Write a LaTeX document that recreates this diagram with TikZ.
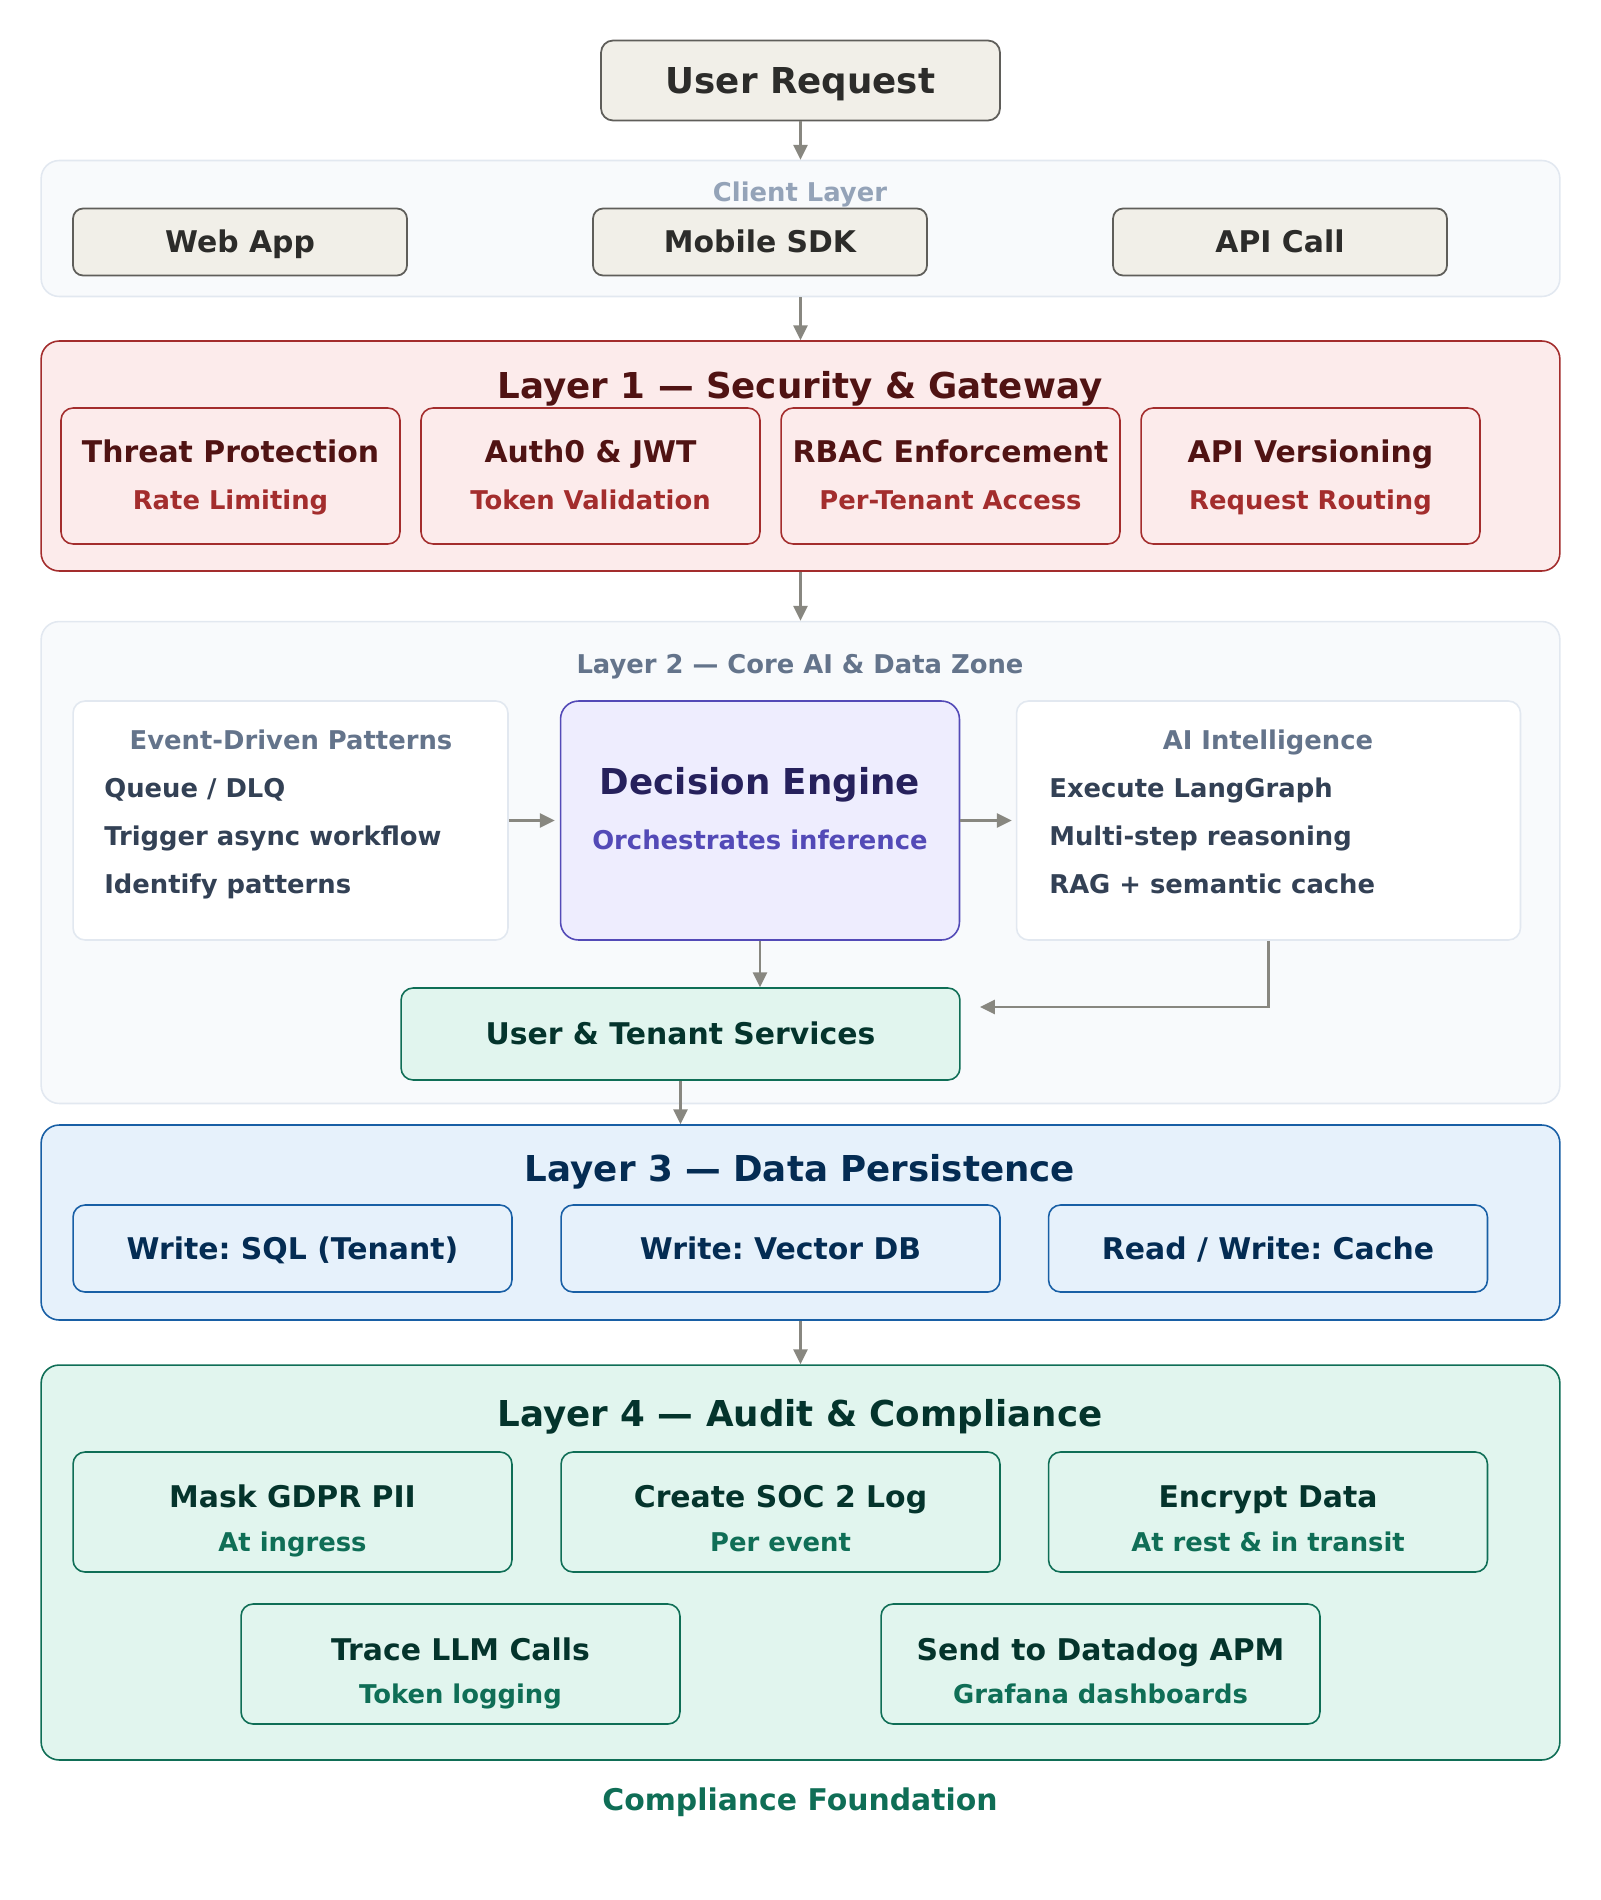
\documentclass[tikz,border=0pt]{standalone}
\usepackage{fontspec}
\setmainfont{DejaVu Sans}
\usetikzlibrary{arrows.meta}
\frenchspacing

\definecolor{arrowgray}{HTML}{888780}
\definecolor{chipfill}{HTML}{F1EFE8}
\definecolor{chipline}{HTML}{5F5E5A}
\definecolor{chiptext}{HTML}{2C2C2A}
\definecolor{zonefill}{HTML}{F8FAFC}
\definecolor{zoneline}{HTML}{E2E8F0}
\definecolor{zonelabel}{HTML}{94A3B8}
\definecolor{zonetitle}{HTML}{64748B}
\definecolor{itemtext}{HTML}{334155}
\definecolor{secfill}{HTML}{FCEBEB}
\definecolor{secline}{HTML}{A32D2D}
\definecolor{sectext}{HTML}{501313}
\definecolor{decfill}{HTML}{EEEDFE}
\definecolor{decline}{HTML}{534AB7}
\definecolor{dectext}{HTML}{26215C}
\definecolor{grnfill}{HTML}{E1F5EE}
\definecolor{grnline}{HTML}{0F6E56}
\definecolor{grntext}{HTML}{04342C}
\definecolor{bluefill}{HTML}{E6F1FB}
\definecolor{blueline}{HTML}{185FA5}
\definecolor{bluetext}{HTML}{042C53}

\begin{document}
\begin{tikzpicture}[x=0.02cm, y=-0.02cm,
    every node/.style={inner sep=0pt},
    bigfont/.style={font=\fontsize{20.3}{24}\selectfont\bfseries, text height=14.8pt, text depth=0pt},
    midfont/.style={font=\fontsize{17}{20}\selectfont\bfseries, text height=12.4pt, text depth=0pt},
    smallfont/.style={font=\fontsize{14.7}{18}\selectfont\bfseries, text height=10.7pt, text depth=0pt},
    conn/.style={draw=arrowgray, line width=1.4pt, -{Triangle[length=8.5pt,width=8pt]}},
    chip/.style={draw=chipline, fill=chipfill, text=chiptext, line width=1pt, rounded corners=0.2cm, minimum width=6.68cm, minimum height=1.34cm},
    zone/.style={draw=zoneline, fill=zonefill, line width=0.9pt, rounded corners=0.36cm, minimum width=30.38cm},
    panel/.style={draw=zoneline, fill=white, line width=0.9pt, rounded corners=0.24cm, minimum height=4.78cm},
    secbox/.style={draw=secline, fill=secfill, line width=0.9pt, rounded corners=0.36cm, minimum width=30.38cm},
    secitem/.style={draw=secline, fill=secfill, line width=0.9pt, rounded corners=0.24cm, minimum width=6.78cm, minimum height=2.72cm},
    decbox/.style={draw=decline, fill=decfill, line width=0.9pt, rounded corners=0.36cm, minimum width=7.98cm, minimum height=4.78cm},
    grnbox/.style={draw=grnline, fill=grnfill, line width=0.9pt, rounded corners=0.36cm},
    grnitem/.style={draw=grnline, fill=grnfill, line width=0.9pt, rounded corners=0.24cm, minimum width=8.78cm, minimum height=2.4cm},
    bluebox/.style={draw=blueline, fill=bluefill, line width=0.9pt, rounded corners=0.36cm, minimum width=30.38cm},
    blueitem/.style={draw=blueline, fill=bluefill, line width=0.9pt, rounded corners=0.24cm, minimum width=8.78cm, minimum height=1.74cm}]
    \useasboundingbox (0,0) rectangle (1600,1900);

    % User request
    \node[chip, bigfont, minimum width=7.98cm, minimum height=1.6cm, rounded corners=0.24cm] (user) at (800.5,80.5) {User Request};

    % Client layer
    \node[zone, minimum height=2.72cm] (client) at (800.5,228.5) {};
    \node[smallfont, text=zonelabel] (clientlbl) at (800,192) {Client Layer};
    \node[chip, midfont] (web) at (240,242) {Web App};
    \node[chip, midfont] (mobile) at (760,242) {Mobile SDK};
    \node[chip, midfont] (apicall) at (1280,242) {API Call};

    % Layer 1
    \node[secbox, minimum height=4.6cm] (sec) at (800.5,456) {};
    \node[bigfont, text=sectext] (sectitle) at (800,385) {Layer 1 — Security \& Gateway};
    \node[secitem] (threat) at (230.5,476) {};
    \node[midfont, text=sectext] (threatname) at (230.5,452) {Threat Protection};
    \node[smallfont, text=secline] (threatsub) at (230.5,500) {Rate Limiting};
    \node[secitem] (auth) at (590.5,476) {};
    \node[midfont, text=sectext] (authname) at (590.5,452) {Auth0 \& JWT};
    \node[smallfont, text=secline] (authsub) at (590.5,500) {Token Validation};
    \node[secitem] (rbac) at (950.5,476) {};
    \node[midfont, text=sectext] (rbacname) at (950.5,452) {RBAC Enforcement};
    \node[smallfont, text=secline] (rbacsub) at (950.5,500) {Per-Tenant Access};
    \node[secitem] (version) at (1310.5,476) {};
    \node[midfont, text=sectext] (versionname) at (1310.5,452) {API Versioning};
    \node[smallfont, text=secline] (versionsub) at (1310.5,500) {Request Routing};

    % Layer 2
    \node[zone, minimum height=9.64cm] (core) at (800.5,862.5) {};
    \node[smallfont, text=zonetitle] (coretitle) at (800,664) {Layer 2 — Core AI \& Data Zone};

    \node[panel, minimum width=8.7cm] (events) at (290.5,820.5) {};
    \node[smallfont, text=zonetitle] (eventstitle) at (291,740) {Event-Driven Patterns};
    \node[smallfont, text=itemtext, anchor=west] (ev1) at (104,788) {Queue / DLQ};
    \node[smallfont, text=itemtext, anchor=west] (ev2) at (104,836) {Trigger async workflow};
    \node[smallfont, text=itemtext, anchor=west] (ev3) at (104,884) {Identify patterns};

    \node[decbox] (decision) at (760,820.5) {};
    \node[bigfont, text=dectext] (dectitle) at (760,781) {Decision Engine};
    \node[smallfont, text=decline] (decsub) at (760,840) {Orchestrates inference};

    \node[panel, minimum width=10.08cm] (ai) at (1268.5,820.5) {};
    \node[smallfont, text=zonetitle] (aititle) at (1268,740) {AI Intelligence};
    \node[smallfont, text=itemtext, anchor=west] (ai1) at (1049,788) {Execute LangGraph};
    \node[smallfont, text=itemtext, anchor=west] (ai2) at (1049,836) {Multi-step reasoning};
    \node[smallfont, text=itemtext, anchor=west] (ai3) at (1049,884) {RAG + semantic cache};

    \node[grnbox, midfont, text=grntext, rounded corners=0.24cm, minimum width=11.18cm, minimum height=1.84cm] (tenant) at (680.5,1034) {User \& Tenant Services};
    \coordinate (aiend) at (980,1007);

    % Layer 3
    \node[bluebox, minimum height=3.9cm] (data) at (800.5,1222.5) {};
    \node[bigfont, text=bluetext] (datatitle) at (800,1168) {Layer 3 — Data Persistence};
    \node[blueitem, midfont, text=bluetext] (sql) at (292.5,1248.5) {Write: SQL (Tenant)};
    \node[blueitem, midfont, text=bluetext] (vector) at (780.5,1248.5) {Write: Vector DB};
    \node[blueitem, midfont, text=bluetext] (cache) at (1268,1248.5) {Read / Write: Cache};

    % Layer 4
    \node[grnbox, minimum width=30.38cm, minimum height=7.9cm] (audit) at (800.5,1562.5) {};
    \node[bigfont, text=grntext] (audittitle) at (800,1413) {Layer 4 — Audit \& Compliance};
    \node[grnitem] (gdpr) at (292.5,1512) {};
    \node[midfont, text=grntext] (gdprname) at (292.5,1497) {Mask GDPR PII};
    \node[smallfont, text=grnline] (gdprsub) at (292.5,1542) {At ingress};
    \node[grnitem] (soc) at (780.5,1512) {};
    \node[midfont, text=grntext] (socname) at (780.5,1497) {Create SOC 2 Log};
    \node[smallfont, text=grnline] (socsub) at (780.5,1542) {Per event};
    \node[grnitem] (encrypt) at (1268,1512) {};
    \node[midfont, text=grntext] (encryptname) at (1268,1497) {Encrypt Data};
    \node[smallfont, text=grnline] (encryptsub) at (1268,1542) {At rest \& in transit};
    \node[grnitem] (trace) at (460.5,1664) {};
    \node[midfont, text=grntext] (tracename) at (460.5,1650) {Trace LLM Calls};
    \node[smallfont, text=grnline] (tracesub) at (460.5,1694) {Token logging};
    \node[grnitem] (datadog) at (1100.5,1664) {};
    \node[midfont, text=grntext] (datadogname) at (1100.5,1650) {Send to Datadog APM};
    \node[smallfont, text=grnline] (datadogsub) at (1100.5,1694) {Grafana dashboards};

    \node[midfont, text=grnline] (foundation) at (800,1800) {Compliance Foundation};

    % Connectors
    \draw[conn] (user.south) -- (client.north);
    \draw[conn] (client.south) -- (sec.north);
    \draw[conn] (sec.south) -- (core.north);
    \draw[conn, shorten >=0.1cm] (events.east) -- (decision.west);
    \draw[conn, shorten >=0.08cm] (decision.east) -- (ai.west);
    \draw[conn] (decision.south) -- (decision.south |- tenant.north);
    \draw[conn] (ai.south) |- (aiend);
    \draw[conn] (tenant.south) -- (tenant.south |- data.north);
    \draw[conn] (data.south) -- (audit.north);
\end{tikzpicture}
\end{document}
